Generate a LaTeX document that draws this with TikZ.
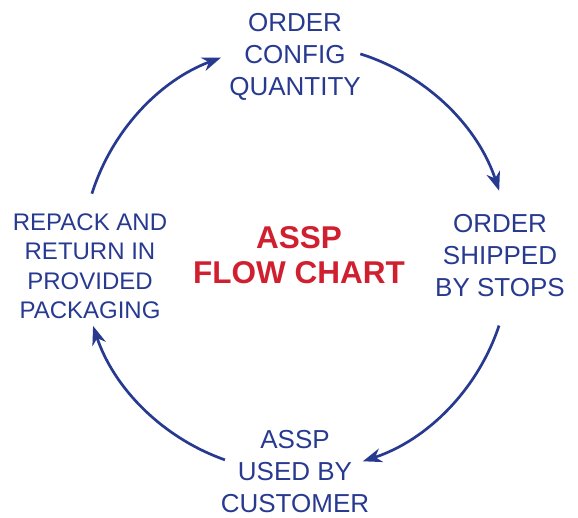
\documentclass[tikz,border=0pt]{standalone}
\usepackage{fontspec}
\setmainfont{Liberation Sans}
\usetikzlibrary{arrows.meta}
\definecolor{cycblue}{HTML}{283A90}
\definecolor{cycred}{HTML}{D02030}
\begin{document}
\begin{tikzpicture}[x=1pt,y=1pt,
  steptext/.style={text=cycblue, align=center, inner sep=0pt, font=\fontsize{26}{32}\selectfont},
  sidetext/.style={text=cycblue, align=center, inner sep=0pt, font=\fontsize{24}{29.5}\selectfont},
  titletext/.style={text=cycred, align=center, inner sep=0pt, font=\bfseries\fontsize{31.5}{35}\selectfont},
  cycarrow/.style={draw=cycblue, line width=2.7pt, -{Stealth[length=19pt,width=14pt,inset=6pt]}}]
\useasboundingbox (0,0) rectangle (578,517);
\coordinate (c) at (296,259);
\node[steptext] (top) at (295,460) {ORDER\\CONFIG\\QUANTITY};
\node[steptext] (right) at (500,261) {ORDER\\SHIPPED\\BY STOPS};
\node[steptext] (bottom) at (295,45.5) {ASSP\\USED BY\\CUSTOMER};
\node[sidetext] (left) at (90,251) {REPACK AND\\RETURN IN\\PROVIDED\\PACKAGING};
\node[titletext] (title) at (299,262) {ASSP\\FLOW CHART};
\draw[cycarrow] (c) ++(162.5:214) arc[start angle=162.5, end angle=110.5, radius=214];
\draw[cycarrow] (c) ++(72.5:214) arc[start angle=72.5, end angle=18.3, radius=214];
\draw[cycarrow] (c) ++(-18.4:214) arc[start angle=-18.4, end angle=-71.8, radius=214];
\draw[cycarrow] (c) ++(250.6:214) arc[start angle=250.6, end angle=198.5, radius=214];
\end{tikzpicture}
\end{document}
